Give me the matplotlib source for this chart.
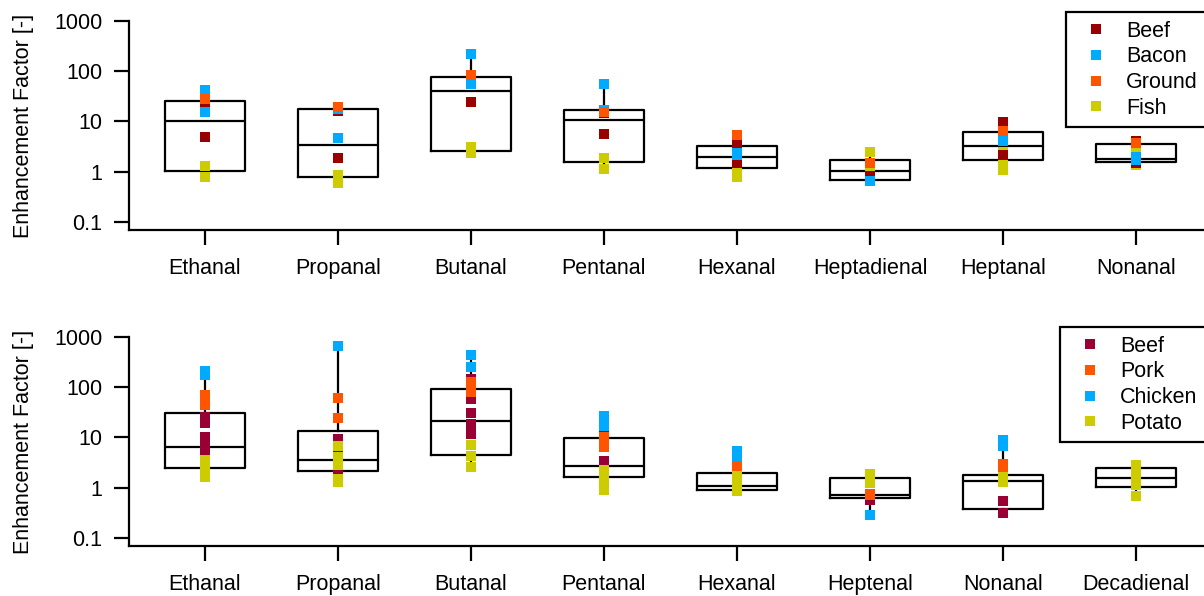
import matplotlib
matplotlib.use("Agg")
import matplotlib.pyplot as plt
from matplotlib.lines import Line2D
import numpy as np

plt.rcParams['font.family'] = ['Liberation Sans', 'DejaVu Sans']

# ---------------- top panel data ----------------
cats_top = ["Ethanal", "Propanal", "Butanal", "Pentanal", "Hexanal",
            "Heptadienal", "Heptanal", "Nonanal"]
series_top = ["Beef", "Bacon", "Ground", "Fish"]
colors_top = ["#990000", "#00AAFF", "#FF5500", "#CCCC00"]

beef_top = [[19.7, 4.9], [16.2, 1.88], [24.4], [14.8, 5.6], [3.4, 1.49],
            [0.82], [9.8, 2.15], [4.1, 1.51]]
bacon_top = [[42.4, 15.7], [18.0, 4.7], [220, 55], [55.7, 16.9], [2.4, 2.15],
             [0.64], [4.0], [2.0, 1.71]]
ground_top = [[28], [19.4], [84], [15.5], [5.4], [1.49], [6.5], [3.7]]
fish_top = [[1.3, 0.79], [0.86, 0.60], [3.1, 2.36], [1.88, 1.13], [0.94, 0.79],
            [2.47, 1.3], [2.5, 1.36, 1.08], [2.7, 1.38]]

q1_top = [1.03, 0.80, 2.55, 1.56, 1.19, 0.67, 1.71, 1.54]
med_top = [10.4, 3.36, 40.5, 10.6, 1.97, 1.02, 3.2, 1.82]
q3_top = [25.9, 17.5, 78, 17.2, 3.3, 1.74, 6.3, 3.56]

# ---------------- bottom panel data ----------------
cats_bot = ["Ethanal", "Propanal", "Butanal", "Pentanal", "Hexanal",
            "Heptenal", "Nonanal", "Decadienal"]
series_bot = ["Beef", "Pork", "Chicken", "Potato"]
colors_bot = ["#990033", "#FF5500", "#00AAFF", "#CCCC00"]

beef_bot = [[25.6, 19.4, 10.2, 7.7, 5.6], [9.3, 5.2, 1.79],
            [146, 58, 30.7, 18.8, 11.7], [11.0, 3.4], [], [0.57], [0.54, 0.31], []]
pork_bot = [[70, 44], [61, 24.4], [127, 80], [10.4, 6.4], [2.75], [0.75, 0.70],
            [2.97, 2.55], []]
chicken_bot = [[210, 175], [652], [438, 253], [26.8, 16.9], [5.4, 4.3], [0.29],
               [8.9, 6.8], []]
potato_bot = [[3.56, 2.43, 1.64], [6.8, 4.1, 2.84, 1.49, 1.32], [7.1, 4.3, 2.6],
              [2.25, 1.43, 0.90], [1.79, 1.23, 0.86], [1.88, 1.24], [1.62, 1.3],
              [2.84, 1.79, 1.13, 0.69]]

q1_bot = [2.47, 2.18, 4.5, 1.64, 0.91, 0.62, 0.38, 1.05]
med_bot = [6.4, 3.5, 21, 2.71, 1.1, 0.70, 1.36, 1.54]
q3_bot = [31.2, 13.5, 93.7, 9.9, 1.94, 1.59, 1.77, 2.44]

yticks = [0.1, 1, 10, 100, 1000]
yticklabels = ["0.1", "1", "10", "100", "1000"]

FS = 15.5
MS = 7.2

fig = plt.figure(figsize=(12.04, 5.96), dpi=100)
ax_top = fig.add_axes([129 / 1204, 1 - 230 / 596, 1 - 129 / 1204, 209 / 596])
ax_bot = fig.add_axes([129 / 1204, 1 - 546 / 596, 1 - 129 / 1204, 209 / 596])


def draw_panel(ax, cats, names, colors, groups, draw_order, q1, med, q3,
               leg_anchor):
    n = len(cats)
    pos = np.arange(n)
    stats = []
    for i in range(n):
        allpts = [v for g in groups for v in g[i]]
        stats.append(dict(med=med[i], q1=q1[i], q3=q3[i],
                          whislo=min(min(allpts), q1[i]),
                          whishi=max(max(allpts), q3[i])))
    ax.bxp(stats, positions=pos, widths=0.6, showfliers=False, showcaps=False,
           boxprops=dict(color="black", linewidth=1.6),
           whiskerprops=dict(color="black", linewidth=1.6),
           medianprops=dict(color="black", linewidth=1.6))
    for z, k in enumerate(draw_order):
        xs = [pos[i] for i in range(n) for _ in groups[k][i]]
        ys = [v for i in range(n) for v in groups[k][i]]
        ax.plot(xs, ys, linestyle="none", marker="s", markersize=MS,
                markeredgewidth=0, color=colors[k], zorder=5 + z)
    ax.set_yscale("log")
    ax.set_ylim(0.069, 1000)
    ax.set_xlim(-0.57, 7.51)
    ax.set_yticks(yticks)
    ax.set_yticklabels(yticklabels)
    ax.minorticks_off()
    ax.set_xticks(pos)
    ax.set_xticklabels(cats)
    for s in ["top", "right"]:
        ax.spines[s].set_visible(False)
    for s in ["left", "bottom"]:
        ax.spines[s].set_linewidth(1.6)
    ax.tick_params(axis="both", direction="out", length=11, width=1.6,
                   labelsize=FS, pad=8)
    ax.tick_params(axis="x", pad=9)
    ax.set_ylabel("Enhancement Factor [-]", fontsize=FS, labelpad=15)
    handles = [Line2D([], [], linestyle="none", marker="s", markersize=MS,
                      markeredgewidth=0, color=c) for c in colors]
    leg = ax.legend(handles, names, loc="upper left", bbox_to_anchor=leg_anchor,
                    bbox_transform=fig.transFigure, borderaxespad=0,
                    fontsize=FS, frameon=True, fancybox=False, framealpha=1,
                    edgecolor="black", handlelength=2.0, handletextpad=0.4,
                    borderpad=0.4, labelspacing=0.22)
    leg.get_frame().set_linewidth(1.6)


draw_panel(ax_top, cats_top, series_top, colors_top,
           [beef_top, bacon_top, ground_top, fish_top], [3, 0, 1, 2],
           q1_top, med_top, q3_top, (1066 / 1204, 1 - 12 / 596))
draw_panel(ax_bot, cats_bot, series_bot, colors_bot,
           [beef_bot, pork_bot, chicken_bot, potato_bot], [0, 3, 2, 1],
           q1_bot, med_bot, q3_bot, (1060 / 1204, 1 - 327 / 596))

fig.savefig("out.png", dpi=100)
